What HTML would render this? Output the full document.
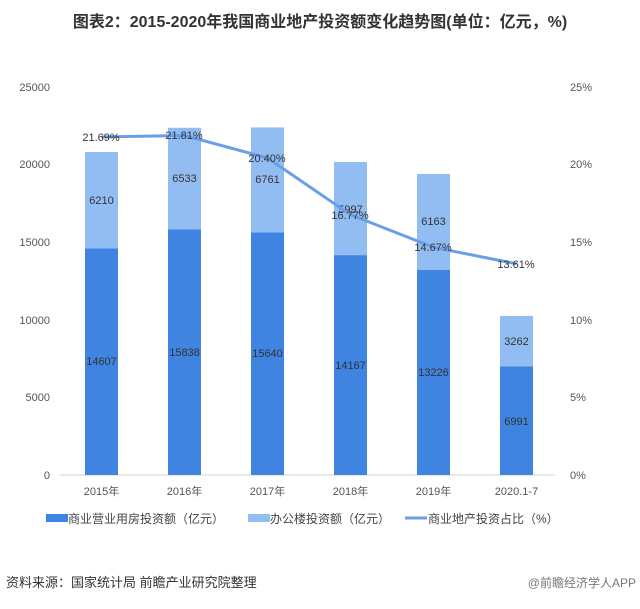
<!DOCTYPE html>
<html><head><meta charset="utf-8"><style>
body{margin:0;background:#fff;}
svg text{font-family:"Liberation Sans","Noto Sans CJK SC",sans-serif;}
</style></head><body>
<svg width="640" height="604" viewBox="0 0 640 604" xmlns="http://www.w3.org/2000/svg">
<text x="320" y="27" text-anchor="middle" font-size="16" font-weight="bold" fill="#333">图表2：2015-2020年我国商业地产投资额变化趋势图(单位：亿元，%)</text>
<g font-size="11" fill="#555" text-anchor="end">
<text x="50" y="479">0</text><text x="50" y="401">5000</text><text x="50" y="324">10000</text><text x="50" y="246">15000</text><text x="50" y="168">20000</text><text x="50" y="91">25000</text>
</g>
<g font-size="11" fill="#555">
<text x="570" y="479">0%</text><text x="570" y="401">5%</text><text x="570" y="324">10%</text><text x="570" y="246">15%</text><text x="570" y="168">20%</text><text x="570" y="91">25%</text>
</g>
<line x1="60" y1="475" x2="555" y2="475" stroke="#d0d0d0"/>
<g>
<rect x="85" y="248.3" width="33" height="226.7" fill="#3f84e0"/><rect x="85" y="152" width="33" height="96.3" fill="#92bdf2"/>
<rect x="168" y="229.2" width="33" height="245.8" fill="#3f84e0"/><rect x="168" y="127.8" width="33" height="101.4" fill="#92bdf2"/>
<rect x="251" y="232.3" width="33" height="242.7" fill="#3f84e0"/><rect x="251" y="127.4" width="33" height="104.9" fill="#92bdf2"/>
<rect x="334" y="255.1" width="33" height="219.9" fill="#3f84e0"/><rect x="334" y="162" width="33" height="93.1" fill="#92bdf2"/>
<rect x="417" y="269.7" width="33" height="205.3" fill="#3f84e0"/><rect x="417" y="174" width="33" height="95.7" fill="#92bdf2"/>
<rect x="500" y="366.5" width="33" height="108.5" fill="#3f84e0"/><rect x="500" y="315.9" width="33" height="50.6" fill="#92bdf2"/>
</g>
<g font-size="11" fill="#333" text-anchor="middle">
<text x="101.5" y="365">14607</text><text x="101.5" y="204">6210</text>
<text x="184.5" y="356">15838</text><text x="184.5" y="182">6533</text>
<text x="267.5" y="357">15640</text><text x="267.5" y="183">6761</text>
<text x="350.5" y="369">14167</text><text x="350.5" y="213">5997</text>
<text x="433.5" y="376">13226</text><text x="433.5" y="225">6163</text>
<text x="516.5" y="425">6991</text><text x="516.5" y="345">3262</text>
</g>
<polyline points="101.5,137 184.5,135.5 267.5,158 350.5,214.7 433.5,247.3 516.5,263.8" fill="none" stroke="#6a9fe6" stroke-width="3"/>
<g font-size="11" fill="#333" text-anchor="middle">
<text x="101" y="141">21.69%</text><text x="184" y="139">21.81%</text><text x="267" y="162">20.40%</text>
<text x="350" y="219">16.77%</text><text x="433" y="251">14.67%</text><text x="516" y="268">13.61%</text>
</g>
<g font-size="11" fill="#555" text-anchor="middle">
<text x="101.5" y="495">2015年</text><text x="184.5" y="495">2016年</text><text x="267.5" y="495">2017年</text><text x="350.5" y="495">2018年</text><text x="433.5" y="495">2019年</text><text x="516.5" y="495">2020.1-7</text>
</g>
<g font-size="12" fill="#444">
<rect x="46" y="514" width="22" height="8" fill="#3f84e0"/><text x="68" y="523">商业营业用房投资额（亿元）</text>
<rect x="248" y="514" width="22" height="8" fill="#92bdf2"/><text x="270" y="523">办公楼投资额（亿元）</text>
<rect x="405" y="516.5" width="22" height="3" fill="#6a9fe6"/><text x="428" y="523">商业地产投资占比（%）</text>
</g>
<text x="6" y="587" font-size="13" fill="#333">资料来源：国家统计局 前瞻产业研究院整理</text>
<text x="636" y="587" font-size="12" fill="#777" text-anchor="end">@前瞻经济学人APP</text>
</svg>
</body></html>
